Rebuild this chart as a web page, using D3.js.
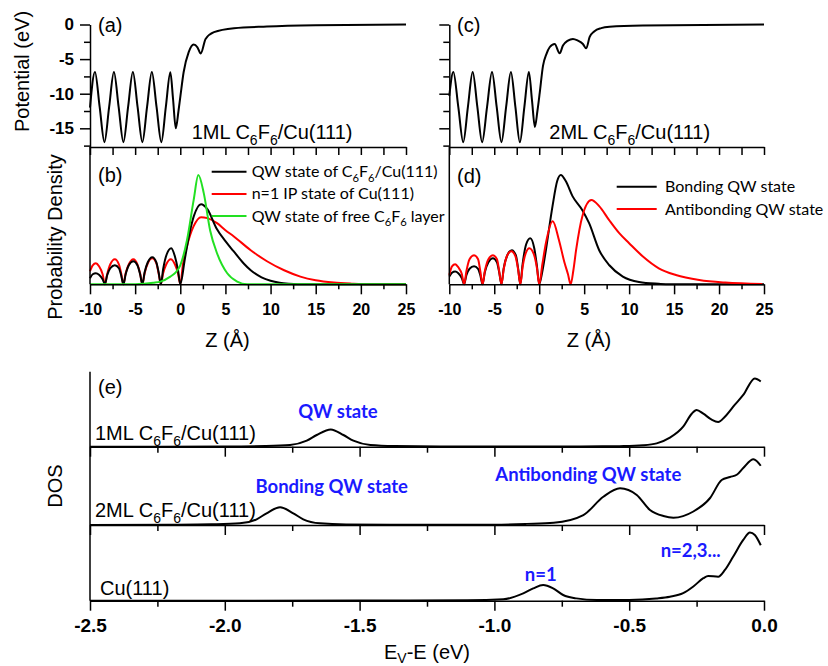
<!DOCTYPE html>
<html lang="en">
<head>
    <meta charset="UTF-8">
    <title>C6F6/Cu(111) potential, probability density and DOS</title>
    <style>
        body { margin: 0; background: #fff; }
        svg text { font-family: "Liberation Sans", Arial, sans-serif; fill: #000; }
        .axis path, .axis line { stroke: #000; stroke-width: 1.5px; }
        .axis text { font-weight: bold; font-size: 16px; font-family: "Liberation Sans", Arial, sans-serif; }
        .axis.big text { font-size: 19px; }
        .axis.pot text { font-size: 17px; }
        .lbl { font-size: 20px; font-family: "Liberation Sans", Arial, sans-serif; }
        .legend { font-family: Lato, "Open Sans", sans-serif !important; font-size: 16px; }
        .blue { font-family: Lato, "Open Sans", sans-serif !important; font-size: 18.5px; font-weight: bold; fill: #1a1aff !important; }
    </style>
</head>
<body>
    <svg id="fig" width="828" height="666"></svg>

    <script src="https://d3js.org/d3.v7.min.js"></script>
    <script>
        // ---- tick values ----
        const zMajor = [-10, -5, 0, 5, 10, 15, 20, 25];
        const zMinor = [-7.5, -2.5, 2.5, 7.5, 12.5, 17.5, 22.5];
        const potMajor = [0, -5, -10, -15];
        const potMinor = [-2.5, -7.5, -12.5, -17.5];
        const eMajor = [-2.5, -2.0, -1.5, -1.0, -0.5, 0.0];
        const eMinor = [-2.25, -1.75, -1.25, -0.75, -0.25];

        // ---- (a) / (c) potential, [Z (A), V (eV)] ----
        const pot1ML = [
            [-10, -12.0], [-9.45, -6.85], [-8.93, -11.9], [-8.4, -17], [-7.88, -11.9], [-7.35, -6.85],
            [-6.83, -11.9], [-6.3, -17], [-5.78, -11.9], [-5.25, -6.85], [-4.73, -11.9], [-4.2, -17],
            [-3.68, -11.9], [-3.15, -6.85], [-2.63, -11.9], [-2.1, -17], [-1.6, -11.9], [-1.1, -6.9],
            [-0.8, -10.8], [-0.5, -15], [-0.2, -12.5], [0, -10.5], [0.37, -6.9], [0.93, -4.0],
            [1.48, -2.9], [1.9, -3.3], [2.26, -4.2], [2.8, -2.1], [3.73, -1.1], [5.95, -0.53],
            [9.6, -0.3], [15, -0.12], [25, 0]
        ];
        const pot2ML = [
            [-10, -10.3], [-9.55, -6.85], [-9.0, -11.9], [-8.45, -17], [-7.93, -11.9], [-7.4, -6.85],
            [-6.88, -11.9], [-6.35, -17], [-5.8, -11.9], [-5.25, -6.85], [-4.73, -11.9], [-4.2, -17],
            [-3.68, -11.9], [-3.15, -6.85], [-2.65, -11.9], [-2.15, -17], [-1.65, -11.9], [-1.15, -6.85],
            [-0.8, -11], [-0.48, -14.8], [-0.2, -12.5], [0.06, -9.84], [0.42, -5.97], [0.8, -4.27],
            [1.16, -3.29], [1.72, -2.81], [2.27, -4.17], [2.64, -3.05], [3.19, -2.33], [3.75, -2.08],
            [4.3, -2.33], [4.86, -2.81], [5.23, -3.44], [5.6, -1.84], [6.15, -0.97], [6.9, -0.53],
            [7.82, -0.33], [11.5, -0.14], [25, 0]
        ];

        // ---- (b) probability density, [Z, a.u.] ----
        const densQW1ML = [
            [-10, 0.06], [-9.7, 0.1], [-9.35, 0.11], [-9.0, 0.095], [-8.6, 0.05], [-8.35, 0],
            [-8.1, 0.09], [-7.75, 0.16], [-7.25, 0.19], [-6.8, 0.16], [-6.55, 0.09], [-6.3, 0],
            [-6.05, 0.1], [-5.7, 0.19], [-5.2, 0.23], [-4.75, 0.19], [-4.45, 0.1], [-4.2, 0],
            [-3.95, 0.12], [-3.6, 0.22], [-3.1, 0.27], [-2.65, 0.22], [-2.4, 0.12], [-2.15, 0],
            [-1.9, 0.15], [-1.5, 0.3], [-1.0, 0.36], [-0.6, 0.28], [-0.25, 0.14], [0, 0],
            [0.5, 0.25], [1.0, 0.5], [1.5, 0.68], [2.3, 0.8], [3.0, 0.75], [4.0, 0.56], [5.0, 0.43],
            [5.9, 0.33], [7.0, 0.21], [7.8, 0.14], [9.0, 0.07], [10, 0.035], [11, 0.015], [12, 0.005],
            [13, 0], [25, 0]
        ];
        const densIP = [
            [-10, 0.13], [-9.7, 0.19], [-9.35, 0.21], [-9.0, 0.18], [-8.6, 0.1], [-8.35, 0],
            [-8.1, 0.1], [-7.75, 0.2], [-7.25, 0.25], [-6.8, 0.2], [-6.55, 0.11], [-6.3, 0],
            [-6.05, 0.11], [-5.7, 0.2], [-5.2, 0.25], [-4.75, 0.2], [-4.45, 0.11], [-4.2, 0],
            [-3.95, 0.11], [-3.6, 0.21], [-3.1, 0.26], [-2.65, 0.21], [-2.4, 0.11], [-2.15, 0],
            [-1.9, 0.11], [-1.55, 0.2], [-1.05, 0.25], [-0.6, 0.2], [-0.25, 0.11], [0, 0],
            [0.3, 0.2], [0.74, 0.38], [1.48, 0.58], [2.3, 0.67], [3.0, 0.66], [4.07, 0.61], [5.0, 0.54],
            [5.9, 0.48], [7.8, 0.34], [9.6, 0.23], [11.5, 0.14], [13.3, 0.077], [15, 0.04], [17, 0.017],
            [19, 0.006], [21, 0], [25, 0]
        ];
        const densFree = [
            [-10, 0], [-5, 0], [-4, 0.005], [-3, 0.015], [-2.2, 0.027], [-1.1, 0.077], [-0.5, 0.12],
            [0, 0.19], [0.74, 0.44], [1.48, 0.84], [2.0, 1.09], [2.6, 0.91], [3.3, 0.54], [4.07, 0.31],
            [5.2, 0.11], [6.3, 0.027], [7.4, 0], [25, 0]
        ];

        // ---- (d) probability density, [Z, a.u.] ----
        const densBonding = [
            [-10, 0.077], [-9.7, 0.115], [-9.35, 0.127], [-9.0, 0.11], [-8.6, 0.06], [-8.35, 0],
            [-8.1, 0.09], [-7.75, 0.155], [-7.25, 0.18], [-6.8, 0.155], [-6.55, 0.09], [-6.3, 0],
            [-6.05, 0.12], [-5.65, 0.22], [-5.15, 0.26], [-4.7, 0.22], [-4.45, 0.12], [-4.2, 0],
            [-3.95, 0.16], [-3.55, 0.29], [-3.05, 0.34], [-2.6, 0.29], [-2.35, 0.16], [-2.1, 0],
            [-1.85, 0.2], [-1.45, 0.4], [-1.0, 0.46], [-0.55, 0.36], [-0.25, 0.18], [0, 0],
            [0.35, 0.13], [0.74, 0.34], [1.48, 0.78], [2.0, 1.03], [2.4, 1.09], [2.95, 1.03], [3.7, 0.88],
            [4.8, 0.74], [5.55, 0.61], [6.67, 0.34], [7.8, 0.19], [9.3, 0.077], [11.1, 0.023],
            [13.3, 0.005], [14.5, 0], [25, 0]
        ];
        const densAntibonding = [
            [-10, 0.093], [-9.7, 0.18], [-9.35, 0.2], [-9.0, 0.17], [-8.6, 0.1], [-8.35, 0],
            [-8.1, 0.13], [-7.75, 0.25], [-7.25, 0.29], [-6.8, 0.25], [-6.55, 0.13], [-6.3, 0],
            [-6.05, 0.13], [-5.65, 0.25], [-5.15, 0.29], [-4.7, 0.25], [-4.45, 0.13], [-4.2, 0],
            [-3.95, 0.15], [-3.6, 0.28], [-3.1, 0.33], [-2.65, 0.28], [-2.35, 0.15], [-2.1, 0],
            [-1.85, 0.17], [-1.5, 0.31], [-1.1, 0.36], [-0.6, 0.3], [-0.25, 0.16], [0, 0],
            [0.35, 0.2], [0.74, 0.41], [1.5, 0.63], [2.2, 0.44], [2.8, 0.22], [3.2, 0.1], [3.5, 0],
            [3.8, 0.14], [4.1, 0.34], [4.8, 0.68], [5.8, 0.84], [6.67, 0.78], [7.78, 0.64], [8.9, 0.51],
            [10, 0.41], [11.5, 0.28], [13.3, 0.16], [15.2, 0.093], [17.8, 0.043], [20.7, 0.017], [24.8, 0.003]
        ];

        // ---- (e) DOS, [E (eV), a.u.] ----
        const dos1ML = [
            [-2.5, 0], [-2.0, 0.002], [-1.85, 0.008], [-1.758, 0.022], [-1.696, 0.08], [-1.659, 0.156],
            [-1.607, 0.231], [-1.56, 0.156], [-1.523, 0.08], [-1.46, 0.022], [-1.37, 0.008], [-1.2, 0.003],
            [-0.8, 0.003], [-0.6, 0.006], [-0.52, 0.008], [-0.448, 0.018], [-0.398, 0.044], [-0.349, 0.12],
            [-0.299, 0.27], [-0.268, 0.44], [-0.25, 0.49], [-0.225, 0.44], [-0.194, 0.36], [-0.17, 0.33],
            [-0.145, 0.4], [-0.108, 0.56], [-0.077, 0.69], [-0.034, 0.91], [-0.012, 0.87]
        ];
        const dos2ML = [
            [-2.5, 0], [-2.2, 0.004], [-2.05, 0.01], [-1.944, 0.022], [-1.882, 0.076], [-1.845, 0.156],
            [-1.795, 0.236], [-1.746, 0.156], [-1.709, 0.076], [-1.647, 0.022], [-1.55, 0.008], [-1.3, 0.004],
            [-1.0, 0.005], [-0.88, 0.015], [-0.78, 0.03], [-0.67, 0.133], [-0.596, 0.377], [-0.534, 0.49],
            [-0.472, 0.4], [-0.423, 0.2], [-0.373, 0.12], [-0.336, 0.098], [-0.262, 0.18], [-0.2, 0.36],
            [-0.157, 0.6], [-0.126, 0.64], [-0.101, 0.67], [-0.077, 0.76], [-0.039, 0.876], [-0.012, 0.79]
        ];
        const dosCu = [
            [-2.5, 0], [-1.5, 0.002], [-1.1, 0.005], [-0.967, 0.018], [-0.893, 0.098], [-0.856, 0.164],
            [-0.819, 0.21], [-0.782, 0.164], [-0.745, 0.076], [-0.696, 0.031], [-0.62, 0.009], [-0.5, 0.01],
            [-0.4, 0.03], [-0.349, 0.053], [-0.3, 0.1], [-0.262, 0.19], [-0.225, 0.3], [-0.207, 0.33],
            [-0.17, 0.32], [-0.145, 0.41], [-0.114, 0.59], [-0.077, 0.81], [-0.052, 0.91], [-0.034, 0.876],
            [-0.012, 0.74]
        ];

        const svg = d3.select("#fig");

        // ---- scales ----
        const xZa = d3.scaleLinear([-10, 25], [90, 406]);
        const xZc = d3.scaleLinear([-10, 25], [449.3, 764]);
        const yPot = d3.scaleLinear([-17.7, 0], [147, 24.5]);
        const yDen = d3.scaleLinear([0, 1.37], [284.3, 147]);
        const xE = d3.scaleLinear([-2.5, 0], [90, 764]);
        const eBase = [446.7, 525, 600.7];
        const yDos = eBase.map(b => d3.scaleLinear([0, 1], [b, b - 75]));

        function drawCurve(data, x, y, color) {
            svg.append("path")
                .datum(data)
                .attr("d", d3.line().x(d => x(d[0])).y(d => y(d[1])).curve(d3.curveMonotoneX))
                .attr("fill", "none")
                .attr("stroke", color)
                .attr("stroke-width", 2)
                .attr("stroke-linejoin", "round");
        }

        // horizontal axis with major + minor ticks pointing down
        function hAxis(scale, y, major, minor, o) {
            const g = svg.append("g").attr("class", "axis " + (o.cls || "")).attr("transform", `translate(0,${y})`);
            g.call(d3.axisBottom(scale).tickValues(major).tickSize(o.major).tickSizeOuter(0)
                .tickPadding(o.pad || 8).tickFormat(o.fmt || (() => "")));
            g.append("g").call(d3.axisBottom(scale).tickValues(minor).tickSize(o.minor).tickSizeOuter(0)
                .tickFormat(() => "")).select(".domain").remove();
        }

        function vAxis(scale, x, major, minor, o) {
            const g = svg.append("g").attr("class", "axis " + (o.cls || "")).attr("transform", `translate(${x},0)`);
            g.call(d3.axisLeft(scale).tickValues(major).tickSize(o.major).tickSizeOuter(0)
                .tickPadding(o.pad || 6).tickFormat(o.fmt || (() => "")));
            g.append("g").call(d3.axisLeft(scale).tickValues(minor).tickSize(o.minor).tickSizeOuter(0)
                .tickFormat(() => "")).select(".domain").remove();
        }

        function vLine(x, y1, y2) {
            svg.append("line").attr("x1", x).attr("x2", x).attr("y1", y1).attr("y2", y2)
                .attr("stroke", "#000").attr("stroke-width", 1.5);
        }

        // text where "_x" becomes a subscript x
        function richText(x, y, str, cls, anchor, size, shiftK) {
            const t = svg.append("text").attr("x", x).attr("y", y).attr("class", cls)
                .attr("text-anchor", anchor || "start");
            const shift = size * (shiftK || 0.3);
            let down = false;
            str.split(/(_.)/).filter(s => s.length).forEach(s => {
                if (s[0] === "_") {
                    t.append("tspan").attr("dy", down ? 0 : shift).attr("font-size", size * 0.7).text(s[1]);
                    down = true;
                } else {
                    t.append("tspan").attr("dy", down ? -shift : 0).text(s);
                    down = false;
                }
            });
            return t;
        }

        function rotLabel(x, y, str) {
            svg.append("text").attr("class", "lbl").attr("text-anchor", "middle")
                .attr("transform", `translate(${x},${y}) rotate(-90)`).attr("dy", "0.35em").text(str);
        }

        // ---- curves ----
        drawCurve(pot1ML, xZa, yPot, "#000");
        drawCurve(pot2ML, xZc, yPot, "#000");

        drawCurve(densIP, xZa, yDen, "#ff0000");
        drawCurve(densQW1ML, xZa, yDen, "#000");
        drawCurve(densFree, xZa, yDen, "#22e022");

        drawCurve(densBonding, xZc, yDen, "#000");
        drawCurve(densAntibonding, xZc, yDen, "#ff0000");

        drawCurve(dos1ML, xE, yDos[0], "#000");
        drawCurve(dos2ML, xE, yDos[1], "#000");
        drawCurve(dosCu, xE, yDos[2], "#000");

        // ---- axes (a)-(d) ----
        vAxis(yPot, 90, potMajor, potMinor, { major: 10, minor: 6, fmt: d => String(d), cls: "pot" });
        vAxis(yPot, 449.3, potMajor, potMinor, { major: 10, minor: 6 });
        hAxis(xZa, 147, zMajor, zMinor, { major: 8, minor: 8 });
        hAxis(xZc, 147, zMajor, zMinor, { major: 8, minor: 8 });
        vLine(90, 147, 284.3);
        vLine(449.3, 147, 284.3);
        hAxis(xZa, 284.3, zMajor, zMinor, { major: 10, minor: 5, pad: 9, fmt: d => String(d) });
        hAxis(xZc, 284.3, zMajor, zMinor, { major: 10, minor: 5, pad: 9, fmt: d => String(d) });

        // ---- axes (e) ----
        vLine(90, 371.7, 600.7);
        hAxis(xE, eBase[0], eMajor, eMinor, { major: 10, minor: 6 });
        hAxis(xE, eBase[1], eMajor, eMinor, { major: 10, minor: 6 });
        hAxis(xE, eBase[2], eMajor, eMinor, { major: 10, minor: 6, pad: 8, cls: "big", fmt: d => d.toFixed(1) });

        // ---- labels ----
        rotLabel(22, 71.5, "Potential (eV)");
        rotLabel(55, 237, "Probability Density");
        rotLabel(55, 486, "DOS");

        svg.append("text").attr("class", "lbl").attr("x", 227.5).attr("y", 347).attr("text-anchor", "middle").text("Z (\u00c5)");
        svg.append("text").attr("class", "lbl").attr("x", 589).attr("y", 347).attr("text-anchor", "middle").text("Z (\u00c5)");
        richText(427, 659, "E_V-E (eV)", "lbl", "middle", 20, 0.2);

        [["(a)", 98, 32], ["(b)", 98, 182], ["(c)", 457, 32], ["(d)", 457, 183], ["(e)", 98, 394]]
            .forEach(([t, x, y]) => svg.append("text").attr("class", "lbl").attr("x", x).attr("y", y).text(t));

        richText(191.7, 139, "1ML C_6F_6/Cu(111)", "lbl", "start", 20);
        richText(549.3, 139, "2ML C_6F_6/Cu(111)", "lbl", "start", 20);
        richText(95, 440, "1ML C_6F_6/Cu(111)", "lbl", "start", 20);
        richText(95, 517, "2ML C_6F_6/Cu(111)", "lbl", "start", 20);
        richText(100, 595, "Cu(111)", "lbl", "start", 20);

        // ---- legends ----
        const legB = [["#000", "QW state of C_6F_6/Cu(111)"], ["#ff0000", "n=1 IP state of Cu(111)"], ["#22e022", "QW state of free C_6F_6 layer"]];
        legB.forEach(([c, t], i) => {
            const cy = 171.7 + i * 22.2;
            svg.append("line").attr("x1", 211.7).attr("x2", 246.5).attr("y1", cy).attr("y2", cy)
                .attr("stroke", c).attr("stroke-width", 2);
            richText(251.7, cy + 5.5, t, "legend", "start", 16);
        });
        const legD = [["#000", "Bonding QW state"], ["#ff0000", "Antibonding QW state"]];
        legD.forEach(([c, t], i) => {
            const cy = 186.7 + i * 22.3;
            svg.append("line").attr("x1", 616.7).attr("x2", 656.7).attr("y1", cy).attr("y2", cy)
                .attr("stroke", c).attr("stroke-width", 2);
            richText(665, cy + 5.5, t, "legend", "start", 16);
        });

        // ---- blue annotations in (e) ----
        [["QW state", 338, 418], ["Bonding QW state", 331.7, 493], ["Antibonding QW state", 588.3, 480.5],
         ["n=1", 540.7, 580.5], ["n=2,3...", 690.7, 557]]
            .forEach(([t, x, y]) => svg.append("text").attr("class", "blue").attr("x", x).attr("y", y)
                .attr("text-anchor", "middle").text(t));
    </script>
</body>
</html>
